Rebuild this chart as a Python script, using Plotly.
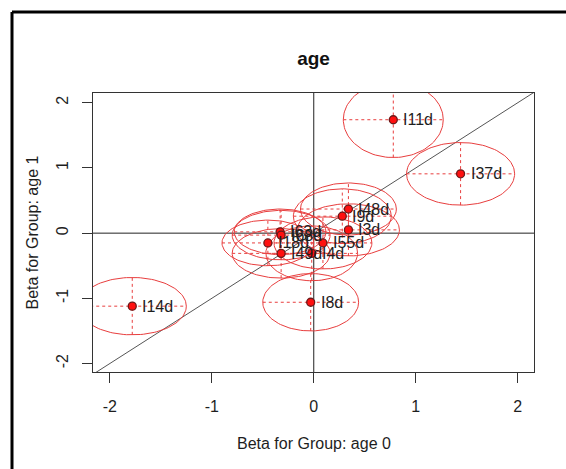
import numpy as np
import plotly.graph_objects as go

# ---- data ----
labels = ["I11d", "I37d", "I14d", "I8d", "I48d", "I9d", "I3d",
          "I63d", "I68d", "I18d", "I55d", "I49d", "I4d"]
beta_age0 = [0.78, 1.44, -1.78, -0.03, 0.34, 0.28, 0.34,
             -0.33, -0.32, -0.45, 0.09, -0.32, -0.02]
beta_age1 = [1.74, 0.91, -1.12, -1.06, 0.37, 0.26, 0.05,
             0.02, -0.03, -0.15, -0.15, -0.31, -0.31]
ci_age0 = [0.49, 0.53, 0.53, 0.47, 0.47, 0.48, 0.50,
           0.45, 0.48, 0.45, 0.48, 0.48, 0.45]
ci_age1 = [0.58, 0.48, 0.44, 0.44, 0.40, 0.42, 0.40,
           0.35, 0.38, 0.35, 0.40, 0.38, 0.42]
tick_vals = [-2, -1, 0, 1, 2]
tick_text = ["-2", "-1", "0", "1", "2"]

RED = "rgb(232,62,62)"
TXT = "#1e1e1e"

fig = go.Figure()

# reference lines (diagonal, h=0, v=0)
fig.add_trace(go.Scatter(x=[-3, 3], y=[-3, 3], mode="lines",
                         line=dict(color="#555555", width=1), hoverinfo="skip"))
fig.add_trace(go.Scatter(x=[-3, 3, None, 0, 0], y=[0, 0, None, -3, 3], mode="lines",
                         line=dict(color="#222222", width=1), hoverinfo="skip"))

# ellipses
t = np.linspace(0, 2 * np.pi, 121)
ex, ey = [], []
cx_, cy_ = [], []
for x0, y0, a, b in zip(beta_age0, beta_age1, ci_age0, ci_age1):
    ex += list(x0 + a * np.cos(t)) + [None]
    ey += list(y0 + b * np.sin(t)) + [None]
    cx_ += [x0 - a, x0 + a, None, x0, x0, None]
    cy_ += [y0, y0, None, y0 - b, y0 + b, None]

fig.add_trace(go.Scatter(x=cx_, y=cy_, mode="lines",
                         line=dict(color=RED, width=1, dash="dot"), hoverinfo="skip"))
fig.add_trace(go.Scatter(x=ex, y=ey, mode="lines",
                         line=dict(color=RED, width=1), hoverinfo="skip"))

# points
fig.add_trace(go.Scatter(x=beta_age0, y=beta_age1, mode="markers",
                         marker=dict(size=8, color="#ff1010",
                                     line=dict(color="#6b1a1a", width=1.3))))

for x0, y0, lab in zip(beta_age0, beta_age1, labels):
    fig.add_annotation(x=x0, y=y0, text=lab, showarrow=False, xanchor="left",
                       yanchor="middle", xshift=8,
                       font=dict(family="Liberation Sans, Arial", size=16, color=TXT))

axis_common = dict(showgrid=False, zeroline=False, showline=True, mirror=True,
                   linecolor="#333333", linewidth=1, ticks="outside", ticklen=10,
                   tickcolor="#333333", tickvals=tick_vals, ticktext=tick_text,
                   tickfont=dict(family="Liberation Sans, Arial", size=16, color=TXT))

fig.update_layout(
    width=566, height=469,
    margin=dict(l=93, r=32, t=93, b=97),
    paper_bgcolor="white", plot_bgcolor="white",
    showlegend=False,
    xaxis=dict(range=[-2.165, 2.16], ticklabelstandoff=10, **axis_common),
    yaxis=dict(range=[-2.13, 2.15], tickangle=-90, ticklabelstandoff=8, **axis_common),
    title=dict(text="<b>age</b>", x=0.5, xref="paper", y=1 - 58 / 469, yref="container",
               yanchor="middle", xanchor="center",
               font=dict(family="Liberation Sans, Arial", size=19, color="#111111")),
)

# axis titles
fig.add_annotation(x=0.5, y=(372 - 443) / 279, xref="paper", yref="paper",
                   text="Beta for Group: age 0", showarrow=False,
                   xanchor="center", yanchor="middle",
                   font=dict(family="Liberation Sans, Arial", size=16, color=TXT))
fig.add_annotation(x=(32 - 93) / 441, y=0.5, xref="paper", yref="paper",
                   text="Beta for Group: age 1", showarrow=False, textangle=-90,
                   xanchor="center", yanchor="middle",
                   font=dict(family="Liberation Sans, Arial", size=16, color=TXT))

# outer frame (left and top edges visible)
fx0 = (12 - 93) / 441
fy0 = (372 - 12) / 279
fig.add_shape(type="line", xref="paper", yref="paper", x0=fx0, y0=fy0,
              x1=(570 - 93) / 441, y1=fy0, line=dict(color="black", width=3))
fig.add_shape(type="line", xref="paper", yref="paper", x0=fx0, y0=fy0,
              x1=fx0, y1=(372 - 475) / 279, line=dict(color="black", width=3))

fig.write_html("out.html")
